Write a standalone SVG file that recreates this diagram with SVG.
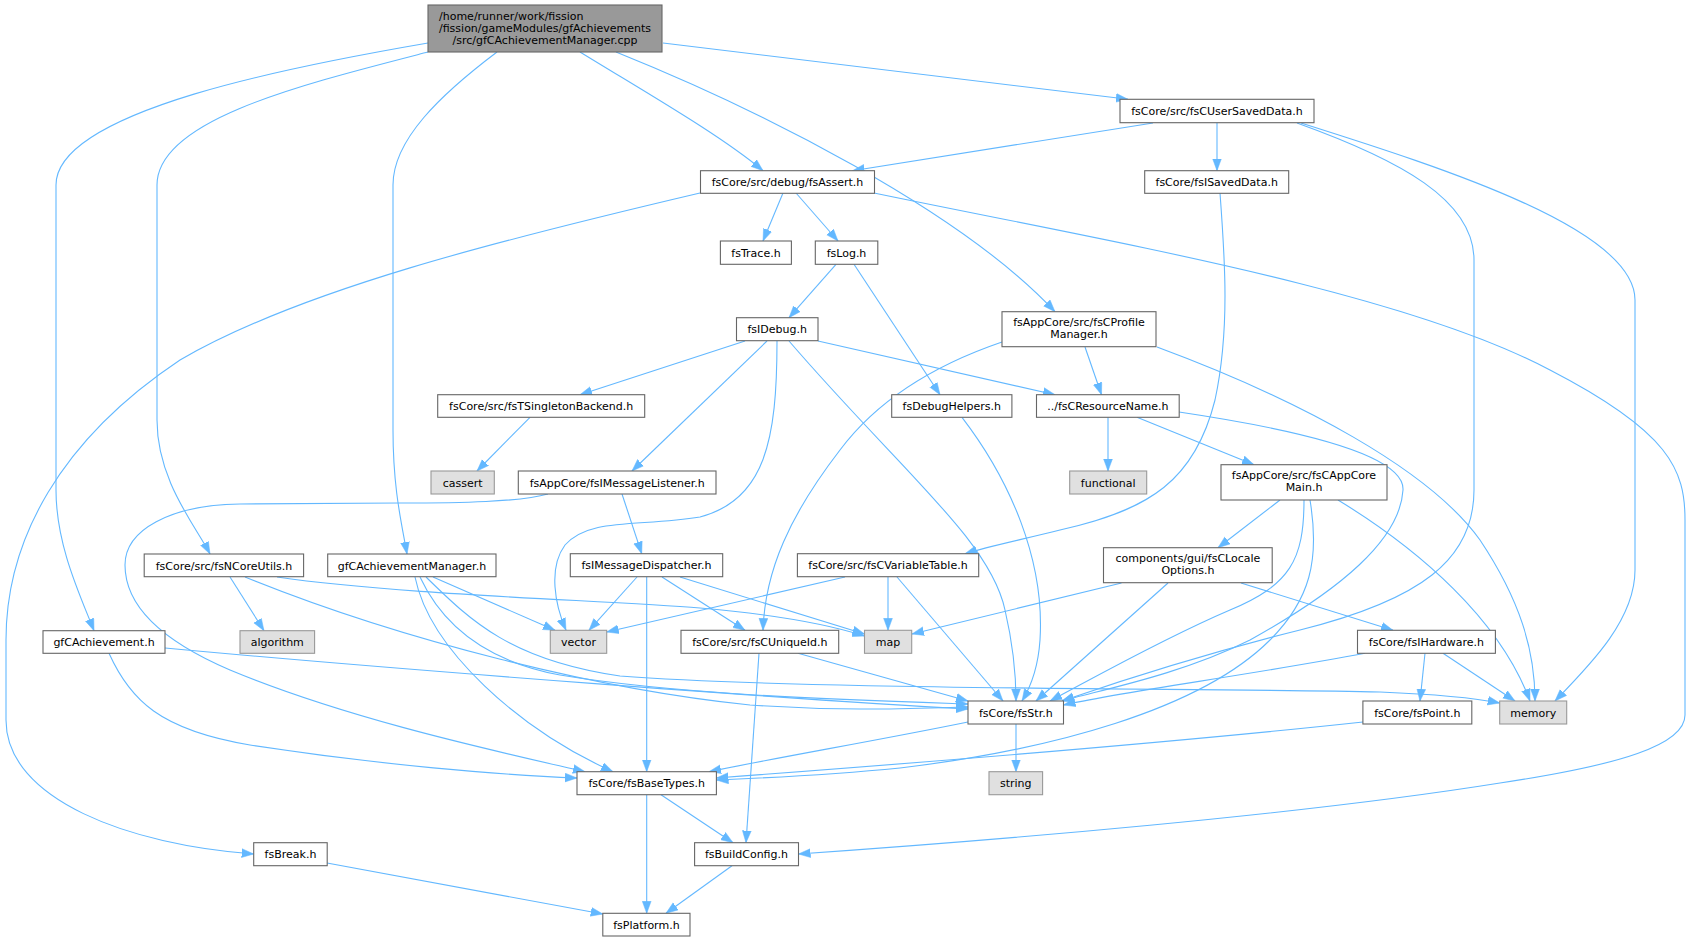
<svg xmlns="http://www.w3.org/2000/svg" width="1691" height="941" viewBox="0 0 1691 941">
<style>
.n rect{fill:#ffffff;stroke:#666666;stroke-width:1.1}
.g rect{fill:#e0e0e0;stroke:#999999;stroke-width:1.1}
.r rect{fill:#999999;stroke:#666666;stroke-width:1.1}
text{font-family:"DejaVu Sans","Noto Sans",sans-serif;font-size:11px;fill:#000000;text-anchor:middle}
#edges path{fill:none;stroke:#63b8ff;stroke-width:1.1;marker-end:url(#ah)}
</style>
<defs>
<marker id="ah" markerUnits="userSpaceOnUse" markerWidth="13" markerHeight="10" refX="12" refY="4.4" orient="auto" viewBox="0 0 13 9">
<path d="M0,0 L12,4.4 L0,8.8 z" fill="#63b8ff" stroke="#63b8ff" stroke-width="0.5"/>
</marker>
</defs>
<rect width="1691" height="941" fill="#ffffff"/>
<g id="edges">
<path d="M428,43 C300,65 56,110 56,185 V490 C56,545 80,595 94,630.7"/>
<path d="M428,52 C300,85 157,120 157,185 V420 C157,480 195,525 210,554"/>
<path d="M497,52 C440,95 393,140 393,185 V430 C393,490 402,525 407,554"/>
<path d="M580,52 C650,95 720,135 763,170.7"/>
<path d="M616,52 C760,110 960,210 1055,311.7"/>
<path d="M663,43 L1128,99.3"/>
<path d="M1153,123 L852.5,170.7"/>
<path d="M1217,123 L1217,170.7"/>
<path d="M1297,123 C1400,160 1474,200 1474,260 V490 C1474,560 1420,600 1300,630 C1180,660 1100,688 1062,701"/>
<path d="M1301,123 C1450,170 1635,230 1635,300 V570 C1635,620 1590,665 1555,701"/>
<path d="M1220,193 C1225,260 1230,330 1215,400 C1195,480 1150,510 1060,530 C1020,540 990,546 965,553.7"/>
<path d="M700,193 C500,240 300,290 180,360 C60,440 6,540 6,640 V720 C6,800 130,845 253.7,854"/>
<path d="M783,193 L763,241"/>
<path d="M796,193 L838,241"/>
<path d="M874,193 C1100,240 1400,290 1550,370 C1670,432 1685,470 1685,520 V715 C1685,745 1620,765 1500,783 C1300,815 1000,840 798.5,854"/>
<path d="M836,264.3 L789,317.7"/>
<path d="M854,264.3 L940,394.7"/>
<path d="M745,341 L580,394.7"/>
<path d="M767,341 L632,471"/>
<path d="M777,341 C777,440 765,500 700,517 C640,527 590,517 565,545 C548,568 555,605 566,630.3"/>
<path d="M789,341 C900,470 990,540 1005,610 C1012,640 1016,670 1016,701"/>
<path d="M818,341 L1055,394.7"/>
<path d="M530,417.3 L477,471"/>
<path d="M1085,347 L1101.5,394.7"/>
<path d="M1002,342 C920,370 870,410 840,450 C790,515 765,570 763,630.3"/>
<path d="M1157,347 C1300,400 1430,470 1480,540 C1520,600 1535,650 1535,701"/>
<path d="M1108,417.3 V471"/>
<path d="M1137,417.3 L1254,464.7"/>
<path d="M1179,412 C1300,430 1405,455 1403,490 C1400,540 1340,590 1250,640 C1180,675 1100,690 1062,701"/>
<path d="M1280,500 L1218,547.7"/>
<path d="M1304,500 C1304,560 1290,585 1230,610 C1160,640 1090,680 1050,701"/>
<path d="M1310,500 C1320,560 1310,600 1270,640 C1200,710 1050,750 900,768 C820,776 760,778 716.4,780"/>
<path d="M1338,500 C1420,550 1500,620 1530,701"/>
<path d="M1121.5,583 L912,634"/>
<path d="M1168,583 L1036,701"/>
<path d="M1241,583 L1393,630.3"/>
<path d="M1365,653.3 C1250,675 1120,692 1063.5,705"/>
<path d="M1425,653.3 L1420,701"/>
<path d="M1443,653.3 L1515,701"/>
<path d="M1363,722 C1150,745 850,768 716.4,778"/>
<path d="M962,417.3 C1010,480 1045,560 1040,640 C1038,670 1030,688 1022,701"/>
<path d="M845,577 L606.7,632"/>
<path d="M888,577 V630.3"/>
<path d="M897,577 L1003,701"/>
<path d="M622,494 L641.7,553.7"/>
<path d="M548,494 C520,502 460,503 400,503 L240,504 C170,505 125,530 125,565 C125,605 160,640 230,670 C350,720 500,752 585,771.7"/>
<path d="M637,577 L589,630.3"/>
<path d="M646.7,577 V771.7"/>
<path d="M662,577 L745,630.3"/>
<path d="M680,577 L864.5,634"/>
<path d="M759,653.3 L746,842.7"/>
<path d="M798,653.3 L968,701"/>
<path d="M230,577 L264,630.7"/>
<path d="M277,577 C400,595 600,600 700,608 C780,615 830,625 864.5,636"/>
<path d="M245,577 C400,640 600,690 750,705 C850,712 920,708 968,707"/>
<path d="M433,577 L555,630.3"/>
<path d="M415,577 C430,650 520,730 613,771.7"/>
<path d="M420,577 C440,620 480,660 560,675 C680,695 850,700 968,704"/>
<path d="M426,577 C470,620 510,660 620,676 C800,690 1200,688 1380,692 C1430,694 1470,697 1499.7,703"/>
<path d="M165,648 C400,670 800,700 968,709"/>
<path d="M109,653.3 C130,700 160,730 250,745 C380,765 500,775 577,778"/>
<path d="M1016,724 V771.7"/>
<path d="M968,722 C880,740 780,757 709,771.7"/>
<path d="M661,794.7 L733,842.7"/>
<path d="M646.7,794.7 V913.3"/>
<path d="M732,865.7 L666,913.3"/>
<path d="M327,863 L602.8,914"/>
</g>
<g id="root" class="r"><rect x="428" y="5" width="234" height="47"/><text x="439" y="19.5" style="text-anchor:start">/home/runner/work/fission</text><text x="545" y="31.5">/fission/gameModules/gfAchievements</text><text x="545" y="43.5">/src/gfCAchievementManager.cpp</text></g>
<g id="n_usd" class="n"><rect x="1120" y="99.3" width="194" height="23.4"/><text x="1217" y="115">fsCore/src/fsCUserSavedData.h</text></g>
<g id="n_assert" class="n"><rect x="700.5" y="170.7" width="174" height="22.6"/><text x="787.5" y="186">fsCore/src/debug/fsAssert.h</text></g>
<g id="n_isaved" class="n"><rect x="1144.7" y="170.7" width="144" height="22.6"/><text x="1216.7" y="186">fsCore/fsISavedData.h</text></g>
<g id="n_trace" class="n"><rect x="720.4" y="241" width="71" height="23.3"/><text x="756" y="256.5">fsTrace.h</text></g>
<g id="n_log" class="n"><rect x="815.3" y="241" width="62.5" height="23.3"/><text x="846.5" y="256.5">fsLog.h</text></g>
<g id="n_idebug" class="n"><rect x="736.5" y="317.7" width="81.5" height="23"/><text x="777.2" y="333">fsIDebug.h</text></g>
<g id="n_profile" class="n"><rect x="1002" y="311.7" width="154" height="35"/><text x="1079" y="326">fsAppCore/src/fsCProfile</text><text x="1079" y="338">Manager.h</text></g>
<g id="n_singleton" class="n"><rect x="437.7" y="394.7" width="207" height="22.6"/><text x="541.2" y="410">fsCore/src/fsTSingletonBackend.h</text></g>
<g id="n_dbghelp" class="n"><rect x="891.7" y="394.7" width="120.2" height="22.6"/><text x="951.8" y="410">fsDebugHelpers.h</text></g>
<g id="n_resname" class="n"><rect x="1036.5" y="394.7" width="142.7" height="22.6"/><text x="1107.9" y="410">../fsCResourceName.h</text></g>
<g id="n_cassert" class="g"><rect x="431" y="471" width="63.3" height="23"/><text x="462.6" y="486.5">cassert</text></g>
<g id="n_listener" class="n"><rect x="518.3" y="471" width="197.7" height="23"/><text x="617.2" y="486.5">fsAppCore/fsIMessageListener.h</text></g>
<g id="n_functional" class="g"><rect x="1069.7" y="471" width="77" height="23"/><text x="1108.2" y="486.5">functional</text></g>
<g id="n_appcore" class="n"><rect x="1221" y="464.7" width="166" height="35.3"/><text x="1304" y="479">fsAppCore/src/fsCAppCore</text><text x="1304" y="491">Main.h</text></g>
<g id="n_ncore" class="n"><rect x="144.2" y="554" width="159.4" height="22.7"/><text x="224" y="569.5">fsCore/src/fsNCoreUtils.h</text></g>
<g id="n_gam" class="n"><rect x="327.7" y="554" width="168.3" height="22.7"/><text x="411.9" y="569.5">gfCAchievementManager.h</text></g>
<g id="n_dispatch" class="n"><rect x="570.3" y="553.7" width="152.4" height="23"/><text x="646.5" y="569.3">fsIMessageDispatcher.h</text></g>
<g id="n_vartable" class="n"><rect x="797.4" y="553.7" width="181.3" height="23"/><text x="888" y="569.3">fsCore/src/fsCVariableTable.h</text></g>
<g id="n_locale" class="n"><rect x="1103.5" y="547.7" width="168.7" height="35"/><text x="1187.9" y="561.8">components/gui/fsCLocale</text><text x="1187.9" y="574">Options.h</text></g>
<g id="n_gfach" class="n"><rect x="43" y="630.7" width="122" height="22.6"/><text x="104" y="646">gfCAchievement.h</text></g>
<g id="n_algorithm" class="g"><rect x="240" y="630.7" width="74.6" height="22.6"/><text x="277.3" y="646">algorithm</text></g>
<g id="n_vector" class="g"><rect x="550.3" y="630.3" width="56.4" height="23"/><text x="578.5" y="646">vector</text></g>
<g id="n_uniqueid" class="n"><rect x="681" y="630.3" width="157.7" height="23"/><text x="759.9" y="646">fsCore/src/fsCUniqueId.h</text></g>
<g id="n_map" class="g"><rect x="864.5" y="630.3" width="47.2" height="23"/><text x="888.1" y="646">map</text></g>
<g id="n_hardware" class="n"><rect x="1357.5" y="630.3" width="137.9" height="23"/><text x="1426.4" y="646">fsCore/fsIHardware.h</text></g>
<g id="n_str" class="n"><rect x="968" y="701" width="95.5" height="23"/><text x="1015.8" y="716.5">fsCore/fsStr.h</text></g>
<g id="n_point" class="n"><rect x="1362.9" y="701" width="108.9" height="23"/><text x="1417.3" y="716.5">fsCore/fsPoint.h</text></g>
<g id="n_memory" class="g"><rect x="1499.7" y="701" width="67" height="23"/><text x="1533.2" y="716.5">memory</text></g>
<g id="n_basetypes" class="n"><rect x="577" y="771.7" width="139.4" height="23"/><text x="646.7" y="787.2">fsCore/fsBaseTypes.h</text></g>
<g id="n_string" class="g"><rect x="989" y="771.7" width="53.6" height="23"/><text x="1015.8" y="787.2">string</text></g>
<g id="n_break" class="n"><rect x="253.7" y="842.7" width="73.5" height="23"/><text x="290.5" y="858.2">fsBreak.h</text></g>
<g id="n_buildcfg" class="n"><rect x="694.6" y="842.7" width="103.9" height="23"/><text x="746.5" y="858.2">fsBuildConfig.h</text></g>
<g id="n_platform" class="n"><rect x="602.8" y="913.3" width="87.2" height="22.7"/><text x="646.4" y="928.6">fsPlatform.h</text></g>
</svg>
